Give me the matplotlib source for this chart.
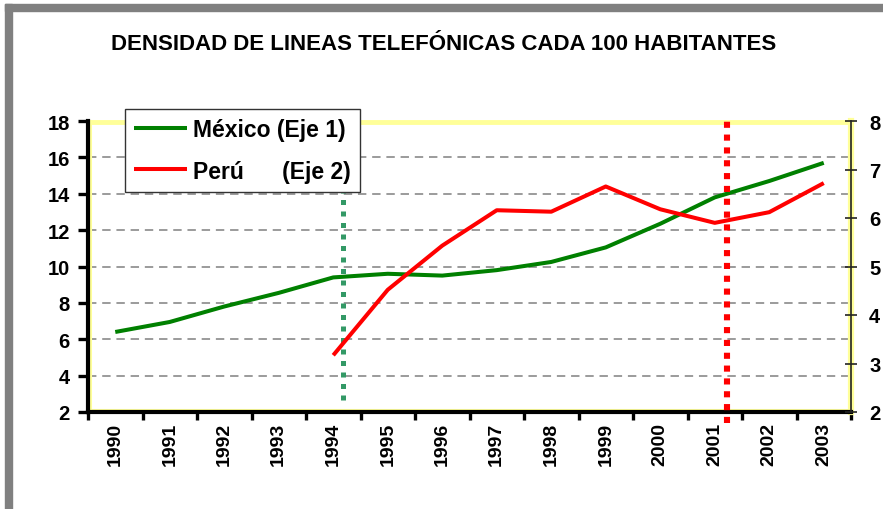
import matplotlib
matplotlib.use("Agg")
import matplotlib.pyplot as plt
from matplotlib.patches import Rectangle

years = ["1990", "1991", "1992", "1993", "1994", "1995", "1996",
         "1997", "1998", "1999", "2000", "2001", "2002", "2003"]
mexico = [6.4, 6.95, 7.8, 8.55, 9.4, 9.6, 9.5, 9.8, 10.25, 11.05, 12.35, 13.8, 14.7, 15.7]
peru_years = years[4:]
peru = [3.17, 4.52, 5.43, 6.16, 6.13, 6.65, 6.18, 5.9, 6.12, 6.72]
left_ticks = [2, 4, 6, 8, 10, 12, 14, 16, 18]
right_ticks = [2, 3, 4, 5, 6, 7, 8]
title = "DENSIDAD DE LINEAS TELEFÓNICAS CADA 100 HABITANTES"
legend_labels = ["México (Eje 1)", "Perú      (Eje 2)"]

plt.rcParams['font.family'] = ['Liberation Sans', 'DejaVu Sans']
plt.rcParams['font.weight'] = 'bold'

W, H = 883, 510
fig = plt.figure(figsize=(W / 100, H / 100), dpi=100)
fig.patch.set_facecolor('white')

# grey frame at top and left
fig.patches.append(Rectangle((5 / W, 0), 7 / W, 505 / H, transform=fig.transFigure,
                             color='#808080', zorder=0))
fig.patches.append(Rectangle((5 / W, 498 / H), 878 / W, 7 / H, transform=fig.transFigure,
                             color='#808080', zorder=0))

L, R, T, B = 88, 851, 122, 413
ax = fig.add_axes([L / W, (H - B) / H, (R - L) / W, (B - T) / H])
ax2 = ax.twinx()

xi = list(range(len(years)))
pi = [years.index(y) for y in peru_years]

ax.set_xlim(-0.5, len(years) - 0.5)
ax.set_ylim(left_ticks[0], left_ticks[-1])
ax2.set_ylim(right_ticks[0], right_ticks[-1])

for v in left_ticks[1:-1]:
    ax.axhline(v, color='#808080', lw=1.1, dashes=(5.5, 3.8), zorder=1)

ln1, = ax.plot(xi, mexico, color='#008000', lw=2.9, zorder=3, solid_capstyle='butt')
ln2, = ax2.plot(pi, peru, color='#ff0000', lw=2.9, zorder=3, solid_capstyle='butt')

# event lines
ax.axvline(years.index("1994") + 0.17, ymin=0.041, ymax=0.772, color='#339966',
           lw=3.6, dashes=(1, 1.3), zorder=4)
ax.axvline(years.index("2001") + 0.23, ymin=-0.038, ymax=1.021, color='#ff0000',
           lw=4.4, dashes=(1, 1.1), zorder=4, clip_on=False)

# yellow plot border
for s in ['top', 'right', 'left', 'bottom']:
    ax.spines[s].set_visible(False)
    ax2.spines[s].set_visible(False)
ax.plot([0, 1], [0.997, 0.997], transform=ax.transAxes, color='#ffff99', lw=3.5,
        clip_on=False, zorder=2)
ax.plot([1, 1], [0, 1], transform=ax.transAxes, color='#ffff99', lw=4.5,
        clip_on=False, zorder=2)
ax.plot([0.004, 0.004], [0, 1], transform=ax.transAxes, color='#ffff99', lw=1.5,
        clip_on=False, zorder=2)
ax.plot([0, 1], [0.006, 0.006], transform=ax.transAxes, color='#ffff99', lw=1.5,
        clip_on=False, zorder=2)
ax.spines['left'].set_visible(True)
ax.spines['left'].set_linewidth(3.0)
ax.spines['bottom'].set_visible(True)
ax.spines['bottom'].set_linewidth(3.0)
ax2.spines['right'].set_visible(True)
ax2.spines['right'].set_linewidth(1.2)
ax2.spines['right'].set_color('#222222')

ax.set_xticks([i - 0.5 for i in range(len(years) + 1)])
ax.set_xticklabels([])
ax.set_xticks(xi, minor=True)
ax.set_xticklabels(years, minor=True, rotation=90, fontsize=14, fontweight='bold')
ax.tick_params(axis='x', which='major', length=6, width=2.4, direction='out')
ax.tick_params(axis='x', which='minor', length=0, pad=7)

ax.set_yticks(left_ticks)
ax.set_yticklabels([str(v) for v in left_ticks], fontsize=14.5, fontweight='bold')
ax.tick_params(axis='y', length=7, width=2.4, pad=6)

ax2.set_yticks(right_ticks)
ax2.set_yticklabels([str(v) for v in right_ticks], fontsize=14.5, fontweight='bold')
ax2.tick_params(axis='y', length=8, width=1.2, direction='inout', pad=9, color='#222222')

fig.text((110 + 778) / 2 / W, 1 - 45 / H, title, ha='center', va='center',
         fontsize=16, fontweight='bold')

leg = ax.legend([ln1, ln2], legend_labels, loc='upper left',
                bbox_to_anchor=((125 - L) / (R - L), 1 + (T - 110) / (B - T)),
                prop={'size': 16.5, 'weight': 'bold'}, frameon=True, fancybox=False,
                edgecolor='#333333', framealpha=1, handlelength=2.3, borderpad=0.4,
                labelspacing=0.8, handletextpad=0.25, borderaxespad=0)
leg.get_frame().set_linewidth(1.0)
leg.set_zorder(10)

fig.savefig("out.png", dpi=100)
